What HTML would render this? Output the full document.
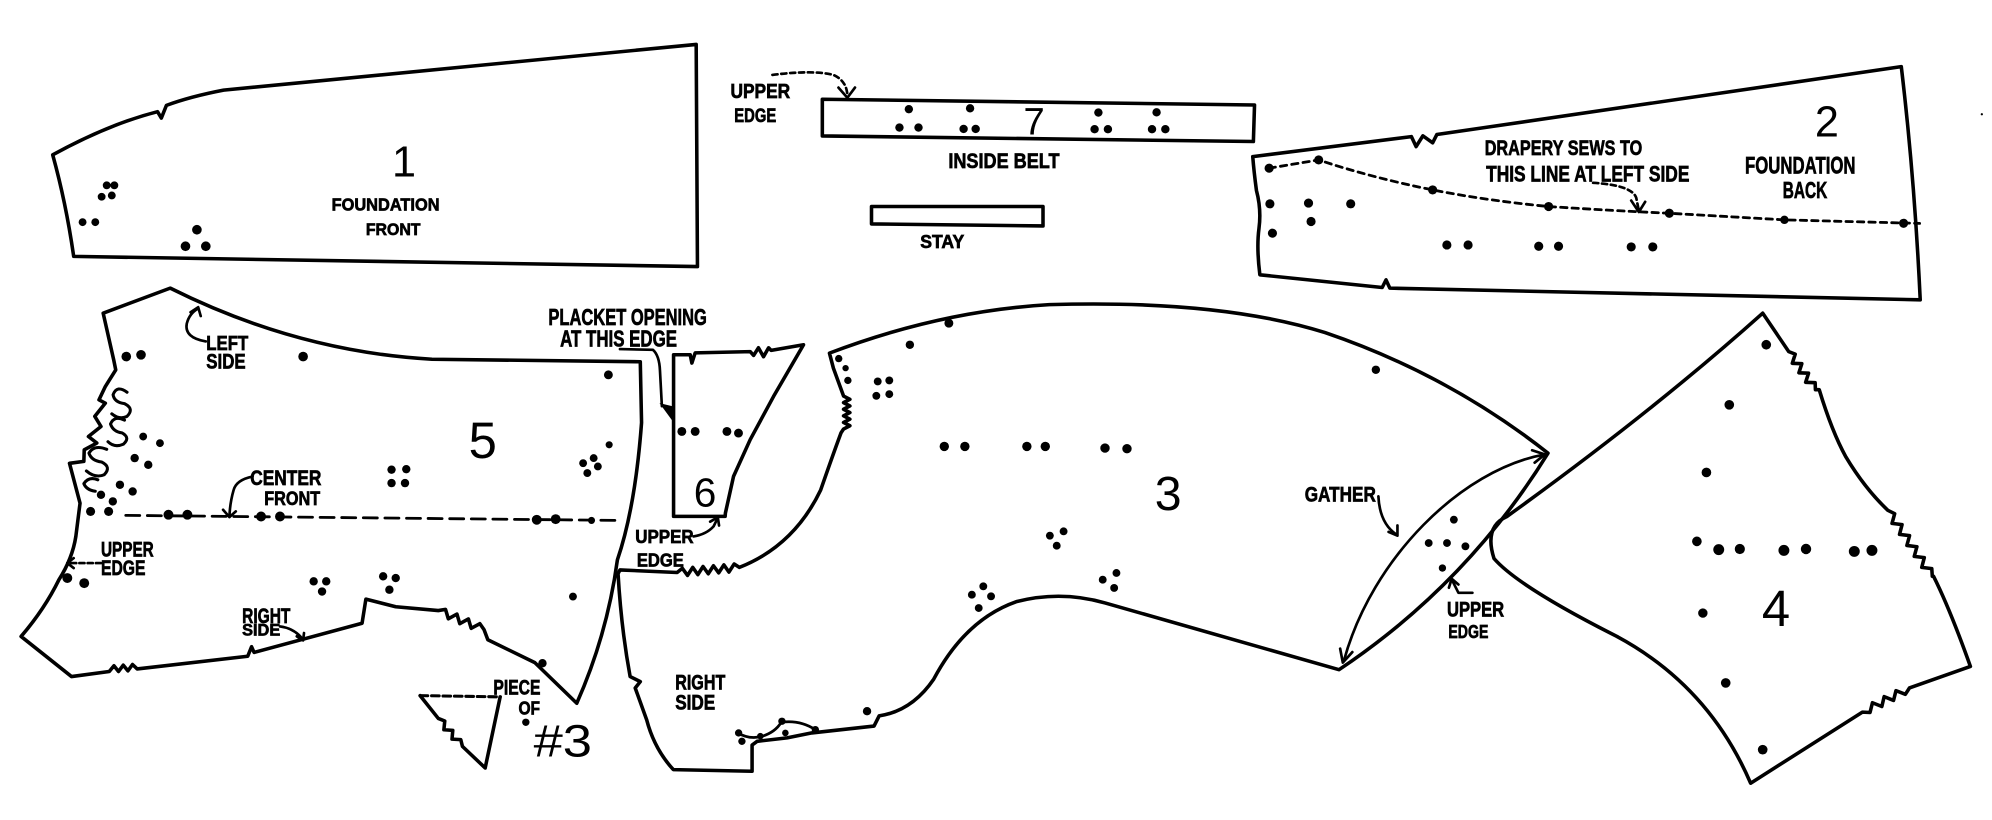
<!DOCTYPE html>
<html><head><meta charset="utf-8">
<style>
html,body{margin:0;padding:0;background:#fff;}
svg{display:block;}
text{font-family:"Liberation Sans",sans-serif;fill:#000;}
.b text{font-weight:bold;stroke:#000;stroke-width:0.55;}
</style></head>
<body>
<svg width="1992" height="820" viewBox="0 0 1568 646" preserveAspectRatio="none" xmlns="http://www.w3.org/2000/svg">
<rect x="0" y="0" width="1568" height="646" fill="#fff"/>
<g fill="none" stroke="#000" stroke-width="2.8" stroke-linejoin="round" stroke-linecap="round">
<!-- Piece 1 -->
<path d="M41.5,122 Q85,98 124,88 L127,93 L131,83 Q150,76 176,71 L548,35 L549,210 L58,202 Q52,160 41.5,122 Z"/>
<!-- Belt & stay -->
<path d="M647.3,78.2 L987.5,82.7 L986.6,111.5 L647.3,107.1 Z"/>
<path d="M686,162.7 L821,162.7 L821,178 L686,176.4 Z"/>
<!-- Piece 2 -->
<path d="M986.1,123.4 L1111,107.6 L1114.7,115.5 L1120,107 L1127.7,112.5 L1131,106 L1496.6,52.5 Q1507,140 1511.5,236.2 L1094,227 L1091,220.5 L1088,226.5 L991.7,216.5 Q989,195 991,180 Q993,165 989,150 Q987,135 986.1,123.4 Z"/>
<!-- Piece 5 -->
<path d="M81.2,246.7 L134,227 C180,250 250,278 340,283 L504,285 L505,333 Q500,400 486,441 Q478,500 454,554 L421,522 L384,504 L381,496 L377.7,491.3 L370.9,495 L368.7,487.6 L361.9,491.3 L359.7,483.8 L352.9,487.5 L350.7,480.1 L345,481 L311.5,478 L288,472 L285,491 L200,514 L198,509.5 L195,517 L108,527 L104.3,523.5 L100.7,528.5 L97,524 L93.3,529 L89.7,524.5 L86,529 L56.3,533 L16.6,501.4 Q35,480 46.4,456.7 Q57,440 59.7,422.6 L63,396.4 L54.7,365 L66,363.5 L66.3,354.4 L76.2,349 L69.6,343.9 L79.5,336 L74.6,328 L82.9,317.6 L77.9,315 L82.9,304.5 L91.1,291.4 L89.5,283.5 Z"/>
<!-- squiggles in piece 5 -->
<path stroke-width="2.4" d="M100,309 Q92,303 89,311 Q90,317 98,318 Q106,322 100,328 Q94,331 88,326"/>
<path stroke-width="2.4" d="M98,331 Q90,327 87,334 Q89,340 96,341 Q103,345 97,350 Q90,353 85,348"/>
<path stroke-width="2.4" d="M84,354 Q74,350 70,357 Q72,363 80,364 Q88,368 82,374 Q75,377 68,371"/>
<path stroke-width="2.4" d="M77,378 Q70,375 66,381 Q68,386 75,387"/>
<!-- Piece 6 -->
<path d="M530.2,279.5 L543.3,279.5 L544.6,286 L547.2,278 L590.5,277 L593.2,280 L597,274 L601,281 L605,274 L607,276 L632.5,271.6 L608.9,312.3 L590.5,346.4 L577.4,375.3 L571,404.2 L570.8,406.8 L530.2,406.8 Z"/>
<!-- Piece 3 -->
<path d="M652.9,278.2 Q740,245 826,240 Q960,236 1043,262 Q1140,295 1218.5,357 Q1155,460 1054,527.6 L869.8,475 Q835,465 800,474 Q760,488 735,535 Q718,560 692,564 L688,572 L639,577.4 L619.5,581.3 L596,584 L592,587 L592,607.6 L530,606.3 Q515,590 509,567 L500,542 L504,537 L496,533 Q489,495 486.5,452 L488,449 L533,451 L537.1,447.7 L541.2,453.3 L545.3,447 L549.3,452.7 L553.4,446.3 L557.5,452 L561.6,445.7 L565.7,451.3 L569.8,445 L573.8,450.7 L577.9,444.3 L582,447 Q625,430 646,386 Q655,360 662,341 L664,338 L669,335.4 L664,332.8 L669,330.2 L664,327.6 L669,325 L664,322.4 L669,319.8 L664,317.2 L669,314.6 L664,312 L656,290 Z"/>
<!-- curl in piece 3 bottom -->
<path stroke-width="2.2" d="M580,577 Q590,583 600,580 Q610,577 615,569 Q630,567 642,575"/>
<!-- Piece 4 -->
<path d="M1387.5,246.7 L1408,277 L1413.1,279 L1410.8,286.2 L1418.3,286.5 L1416,293.7 L1423.6,294 L1421.3,301.2 L1428.8,301.5 L1429,307 L1432,307 Q1442,340 1453,360 Q1468,385 1486,402 L1491.4,404.7 L1489.3,412.3 L1497.2,413.3 L1495.2,421 L1503.1,422 L1501,429.7 L1508.9,430.7 L1506.8,438.3 L1514.7,439.3 L1512.7,447 L1520.6,448 L1521,454 L1522,454 Q1535,480 1551,525 L1503,542 L1499.8,547 L1492.4,544.1 L1490.5,551.8 L1483.1,548.8 L1481.3,556.6 L1473.9,553.6 L1472,561.3 L1466,561 L1378,617 Q1345,540 1272,501 Q1195,462 1176,440 Q1168,415 1186,407 Q1300,325 1387.5,246.7 Z"/>
<!-- Piece of #3 triangle -->
<path d="M393.7,549 L381.9,605 L364,588 L362.7,582.7 L355.8,582.3 L356.4,575.4 L349.4,574.9 L350.1,568 L345,566 L330.7,548"/>
<path stroke-width="2.4" stroke-dasharray="6 3" d="M330.7,548 L393.7,549"/>
</g>

<!-- dashed lines -->
<g fill="none" stroke="#000" stroke-width="2.2" stroke-linecap="round">
<path stroke-dasharray="5 4" d="M999,132.5 L1038,126 Q1080,140 1127.7,149.6 Q1170,158 1219,162.7 Q1270,166 1314,168 L1404.6,173.2 L1511,176"/>
<path stroke-dasharray="11 6" d="M99,406 L489,410"/>
</g>

<!-- arrows -->
<g fill="none" stroke="#000" stroke-width="2.1" stroke-linecap="round" stroke-linejoin="round">
<path stroke-dasharray="4 3" d="M608,59 Q640,55 656,59 Q667,64 667,76"/>
<polyline points="660,69 667,77 673,69"/>
<path stroke-dasharray="4 3" d="M1254,144 Q1285,146 1288,156 L1290,166"/>
<polyline points="1284,158 1290,167 1295,159"/>
<path d="M162,269 Q145,266 147,255 Q149,247 156,243"/>
<polyline points="150,246 156,242 158,249"/>
<path d="M198.8,375.4 Q186,378 183.9,386 Q181,396 180.6,406.9"/>
<polyline points="175.6,401.6 180.6,407.4 185.6,402.9"/>
<path stroke-dasharray="4 2.5" d="M79.5,443.6 L53,443.6"/>
<polyline points="58,439.7 53,443.6 58,447.5"/>
<path d="M220.4,493.5 Q232,495 238.6,504"/>
<polyline points="233.6,501.3 238.6,504.5 239.3,498.7"/>
<path d="M488,275 L514,275.6 Q519,280 519.5,292 L521,320"/>
<path d="M545.9,422.6 Q556,421 561.7,414.7 L564.3,409.4"/>
<polyline points="559,411 565,407.5 566,414"/>
<path d="M1085,391 Q1086,412 1099,421"/>
<polyline points="1093,419 1100,422 1100,414"/>
<path d="M1216,358 C1150,370 1080,440 1058,520"/>
<polyline points="1206,354.7 1216,358 1208,364.5"/>
<polyline points="1054.9,511 1057,522 1064.5,513.7"/>
<path d="M1159,467 L1148,467 L1143,457"/>
<polyline points="1140.5,463 1142.7,456 1148,460.5"/>
</g>
<polygon points="519.1,317.6 530.2,320.2 529.6,332" fill="#000"/>

<!-- dots -->
<g fill="#000">
<!-- piece 1 -->
<circle cx="84" cy="146" r="3.1"/><circle cx="90" cy="146" r="3.1"/><circle cx="80" cy="155" r="3.1"/><circle cx="88" cy="154" r="3.1"/>
<circle cx="65" cy="175" r="3.1"/><circle cx="75" cy="175" r="3.1"/>
<circle cx="155" cy="181" r="3.8"/><circle cx="146" cy="194" r="3.8"/><circle cx="162" cy="194" r="3.8"/>
<!-- belt -->
<circle cx="715.4" cy="86" r="3.3"/><circle cx="708" cy="100.5" r="3.3"/><circle cx="723" cy="100.5" r="3.3"/>
<circle cx="763.6" cy="85.3" r="3.3"/><circle cx="758.5" cy="101.6" r="3.3"/><circle cx="768" cy="101.6" r="3.3"/>
<circle cx="864.6" cy="88.7" r="3.3"/><circle cx="861.6" cy="101.8" r="3.3"/><circle cx="872.1" cy="101.8" r="3.3"/>
<circle cx="910.4" cy="88.5" r="3.3"/><circle cx="906.8" cy="101.8" r="3.3"/><circle cx="917.3" cy="101.8" r="3.3"/>
<!-- piece 2 -->
<circle cx="999" cy="132.5" r="3.6"/><circle cx="1038" cy="126" r="3.6"/><circle cx="1127.7" cy="149.6" r="3.6"/><circle cx="1219" cy="162.7" r="3.6"/><circle cx="1314" cy="168" r="3.6"/><circle cx="1404.6" cy="173.2" r="3.3"/><circle cx="1498.4" cy="175.9" r="3.6"/>
<circle cx="999.6" cy="160.6" r="3.6"/><circle cx="1030" cy="160" r="3.6"/><circle cx="1063.2" cy="160.6" r="3.6"/><circle cx="1032" cy="174.5" r="3.6"/><circle cx="1001.6" cy="183.7" r="3.6"/>
<circle cx="1138.9" cy="193" r="3.6"/><circle cx="1155.6" cy="193" r="3.6"/><circle cx="1211.2" cy="194" r="3.6"/><circle cx="1226.8" cy="194" r="3.6"/><circle cx="1284" cy="194.5" r="3.6"/><circle cx="1301" cy="194.5" r="3.6"/>
<!-- piece 5 -->
<circle cx="99.4" cy="280.9" r="3.8"/><circle cx="111" cy="279.5" r="3.8"/><circle cx="238.6" cy="280.9" r="3.8"/><circle cx="478.9" cy="295.3" r="3.5"/>
<circle cx="308.2" cy="370" r="3.3"/><circle cx="319.8" cy="369.6" r="3.3"/><circle cx="308.2" cy="380.6" r="3.3"/><circle cx="318.8" cy="380.6" r="3.3"/>
<circle cx="479.5" cy="350.4" r="2.8"/><circle cx="459" cy="364.9" r="3.1"/><circle cx="467.3" cy="360.9" r="3.1"/><circle cx="462.3" cy="372.7" r="3.1"/><circle cx="470.6" cy="367.5" r="3.1"/>
<circle cx="112.7" cy="343.9" r="3.1"/><circle cx="125.9" cy="349.1" r="3.1"/><circle cx="106" cy="360.9" r="3.3"/><circle cx="116.7" cy="366.2" r="3.3"/><circle cx="94.4" cy="381.9" r="3.3"/><circle cx="104.4" cy="387.2" r="3.3"/><circle cx="79.5" cy="389.8" r="3.3"/><circle cx="88.8" cy="395" r="3.3"/><circle cx="71.3" cy="402.9" r="3.6"/><circle cx="85.5" cy="402.9" r="3.6"/>
<circle cx="132.6" cy="405.5" r="3.9"/><circle cx="147.5" cy="405.5" r="3.9"/><circle cx="205.5" cy="406.9" r="3.9"/><circle cx="220.4" cy="406.9" r="3.9"/><circle cx="422.5" cy="409.5" r="3.9"/><circle cx="437.4" cy="409" r="3.9"/><circle cx="465.6" cy="410" r="2.8"/>
<circle cx="53" cy="455.4" r="3.9"/><circle cx="66.3" cy="459.4" r="3.9"/>
<circle cx="246.9" cy="458" r="3.3"/><circle cx="256.8" cy="458" r="3.3"/><circle cx="253.5" cy="466" r="3.3"/>
<circle cx="301.6" cy="454" r="3.3"/><circle cx="311.5" cy="455.4" r="3.3"/><circle cx="306.5" cy="464.6" r="3.3"/>
<circle cx="451" cy="470" r="3.1"/><circle cx="427" cy="522.5" r="3.3"/>
<circle cx="413.9" cy="569" r="2.9"/>
<!-- piece 6 -->
<circle cx="536.7" cy="339.9" r="3.5"/><circle cx="547.2" cy="339.9" r="3.5"/><circle cx="572.2" cy="339.9" r="3.5"/><circle cx="581.3" cy="341.2" r="3.5"/>
<!-- piece 3 -->
<circle cx="660.2" cy="282.5" r="2.9"/><circle cx="665.6" cy="290" r="2.5"/><circle cx="667.4" cy="299.7" r="2.9"/>
<circle cx="716.2" cy="271.6" r="3.3"/><circle cx="746.9" cy="254.6" r="3.5"/>
<circle cx="690.9" cy="300.5" r="3.1"/><circle cx="700" cy="299.7" r="3.1"/><circle cx="689.8" cy="311.8" r="3.1"/><circle cx="700" cy="310.5" r="3.1"/>
<circle cx="1083" cy="291.3" r="3.3"/>
<circle cx="743.3" cy="351.7" r="3.7"/><circle cx="759.5" cy="351.7" r="3.7"/><circle cx="808.3" cy="351.7" r="3.7"/><circle cx="822.8" cy="351.7" r="3.7"/><circle cx="869.8" cy="353" r="3.7"/><circle cx="887.1" cy="353.5" r="3.7"/>
<circle cx="826.4" cy="422" r="3.1"/><circle cx="837.2" cy="418.6" r="3.1"/><circle cx="831.8" cy="429.9" r="3.1"/>
<circle cx="868" cy="456.7" r="3.1"/><circle cx="878.8" cy="451.4" r="3.1"/><circle cx="877" cy="463.2" r="3.1"/>
<circle cx="765" cy="468.5" r="3.1"/><circle cx="774" cy="461.9" r="3.1"/><circle cx="780.1" cy="469.8" r="3.1"/><circle cx="770.4" cy="479" r="3.1"/>
<circle cx="1144.4" cy="409.4" r="3.1"/><circle cx="1124.6" cy="427.8" r="3.1"/><circle cx="1139" cy="427.8" r="3.1"/><circle cx="1153.5" cy="430.4" r="3.1"/><circle cx="1135.4" cy="447.5" r="2.9"/>
<circle cx="615.5" cy="568.2" r="2.9"/><circle cx="641.8" cy="574.8" r="2.9"/><circle cx="581.4" cy="577.4" r="2.9"/><circle cx="584" cy="584" r="2.9"/><circle cx="598.5" cy="580" r="2.6"/><circle cx="618.2" cy="577.4" r="2.6"/>
<circle cx="682.5" cy="560.3" r="3.3"/>
<!-- piece 4 -->
<circle cx="1390.3" cy="271.6" r="3.8"/><circle cx="1361.2" cy="318.9" r="3.8"/><circle cx="1343.2" cy="372.2" r="3.8"/><circle cx="1335.7" cy="426.5" r="3.8"/>
<circle cx="1352.9" cy="433" r="4.3"/><circle cx="1369.5" cy="432.5" r="4"/><circle cx="1404.2" cy="433.6" r="4.3"/><circle cx="1421.6" cy="432.5" r="4.1"/><circle cx="1459.6" cy="434.4" r="4.3"/><circle cx="1473.5" cy="433.6" r="4.3"/>
<circle cx="1340.4" cy="483" r="3.7"/><circle cx="1358.4" cy="538" r="3.8"/><circle cx="1387.5" cy="590.6" r="3.8"/>
<circle cx="1560" cy="90" r="0.9"/>
</g>

<!-- labels -->
<g class="b">
<text x="261" y="166" font-size="14" textLength="85" lengthAdjust="spacingAndGlyphs">FOUNDATION</text>
<text x="288" y="185" font-size="13" textLength="43" lengthAdjust="spacingAndGlyphs">FRONT</text>
<text x="575" y="77.4" font-size="16" textLength="47" lengthAdjust="spacingAndGlyphs">UPPER</text>
<text x="578" y="96" font-size="15" textLength="33" lengthAdjust="spacingAndGlyphs">EDGE</text>
<text x="746.5" y="132.5" font-size="17" textLength="87.5" lengthAdjust="spacingAndGlyphs">INSIDE BELT</text>
<text x="724.4" y="195.5" font-size="14.5" textLength="34.6" lengthAdjust="spacingAndGlyphs">STAY</text>
<text x="1168.7" y="122" font-size="17" textLength="124" lengthAdjust="spacingAndGlyphs">DRAPERY SEWS TO</text>
<text x="1169.8" y="143" font-size="17.5" textLength="160" lengthAdjust="spacingAndGlyphs">THIS LINE AT LEFT SIDE</text>
<text x="1373.6" y="136.5" font-size="19" textLength="87" lengthAdjust="spacingAndGlyphs">FOUNDATION</text>
<text x="1403.3" y="156" font-size="18" textLength="35" lengthAdjust="spacingAndGlyphs">BACK</text>
<text x="162.4" y="275.6" font-size="16" textLength="33" lengthAdjust="spacingAndGlyphs">LEFT</text>
<text x="162.4" y="290.5" font-size="17" textLength="31" lengthAdjust="spacingAndGlyphs">SIDE</text>
<text x="197" y="382" font-size="16.5" textLength="56" lengthAdjust="spacingAndGlyphs">CENTER</text>
<text x="208" y="397.7" font-size="15" textLength="44" lengthAdjust="spacingAndGlyphs">FRONT</text>
<text x="79.5" y="438.4" font-size="16.5" textLength="41.5" lengthAdjust="spacingAndGlyphs">UPPER</text>
<text x="79.5" y="452.8" font-size="16.5" textLength="35" lengthAdjust="spacingAndGlyphs">EDGE</text>
<text x="190.6" y="490.9" font-size="16.5" textLength="38" lengthAdjust="spacingAndGlyphs">RIGHT</text>
<text x="190.6" y="500.5" font-size="13" textLength="30" lengthAdjust="spacingAndGlyphs">SIDE</text>
<text x="431.7" y="255.9" font-size="18" textLength="124.7" lengthAdjust="spacingAndGlyphs">PLACKET OPENING</text>
<text x="440.9" y="272.9" font-size="18" textLength="92" lengthAdjust="spacingAndGlyphs">AT THIS EDGE</text>
<text x="500" y="427.8" font-size="14.5" textLength="46" lengthAdjust="spacingAndGlyphs">UPPER</text>
<text x="501.3" y="446.2" font-size="14.5" textLength="37" lengthAdjust="spacingAndGlyphs">EDGE</text>
<text x="388.4" y="547.2" font-size="16.5" textLength="37" lengthAdjust="spacingAndGlyphs">PIECE</text>
<text x="408.1" y="563" font-size="14.5" textLength="17" lengthAdjust="spacingAndGlyphs">OF</text>
<text x="531.5" y="543.3" font-size="16.5" textLength="39.4" lengthAdjust="spacingAndGlyphs">RIGHT</text>
<text x="531.5" y="559" font-size="16.5" textLength="31.5" lengthAdjust="spacingAndGlyphs">SIDE</text>
<text x="1027" y="395" font-size="16.5" textLength="56" lengthAdjust="spacingAndGlyphs">GATHER</text>
<text x="1139" y="485.6" font-size="16.5" textLength="45" lengthAdjust="spacingAndGlyphs">UPPER</text>
<text x="1140.1" y="502.6" font-size="14.5" textLength="31.5" lengthAdjust="spacingAndGlyphs">EDGE</text>
</g>
<g>
<text x="318" y="139" font-size="34" text-anchor="middle">1</text>
<text x="1438" y="107.6" font-size="34" text-anchor="middle">2</text>
<text x="814" y="106" font-size="30" text-anchor="middle">7</text>
<text x="380" y="361" font-size="40" text-anchor="middle">5</text>
<text x="555" y="399" font-size="32" text-anchor="middle">6</text>
<text x="919.5" y="401.6" font-size="38" text-anchor="middle">3</text>
<text x="1398" y="493" font-size="40" text-anchor="middle">4</text>
<text x="420" y="595.8" font-size="36" textLength="46" lengthAdjust="spacingAndGlyphs">#3</text>
</g>
</svg>
</body></html>
